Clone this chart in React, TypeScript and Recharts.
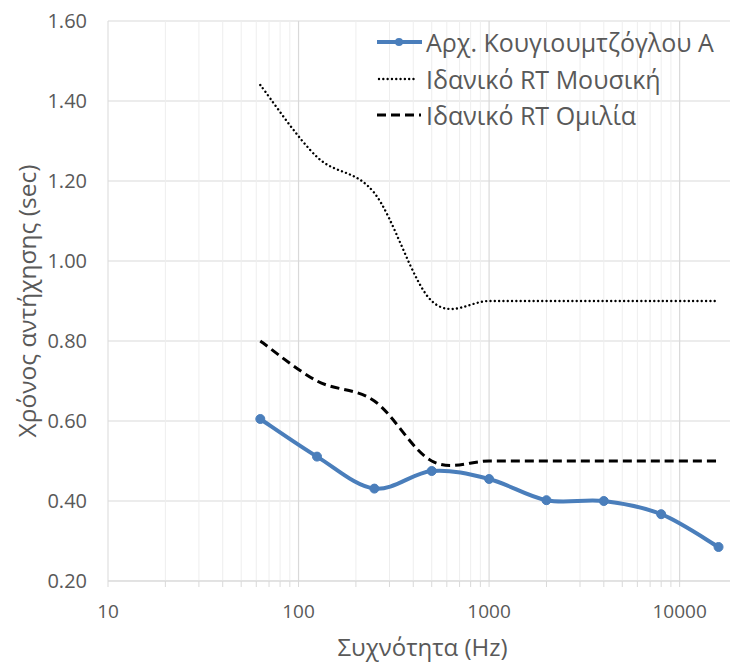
import { LineChart, Line, XAxis, YAxis, CartesianGrid, ReferenceLine, Legend } from "recharts"

const frequencies = [63, 125, 250, 500, 1000, 2000, 4000, 8000, 16000]
const measured = [0.605, 0.511, 0.431, 0.475, 0.455, 0.402, 0.4, 0.367, 0.285]
const idealMusic = [1.44, 1.26, 1.17, 0.9, 0.9, 0.9, 0.9, 0.9, 0.9]
const idealSpeech = [0.8, 0.7, 0.65, 0.5, 0.5, 0.5, 0.5, 0.5, 0.5]

const yTicks = [0.2, 0.4, 0.6, 0.8, 1.0, 1.2, 1.4, 1.6]
const majorX = [10, 100, 1000, 10000]
const minorX = [20, 30, 40, 50, 60, 70, 80, 90, 200, 300, 400, 500, 600, 700, 800, 900, 2000, 3000, 4000, 5000, 6000, 7000, 8000, 9000, 20000]

const seriesNames = ["Αρχ. Κουγιουμτζόγλου Α", "Ιδανικό RT Μουσική", "Ιδανικό RT Ομιλία"]

const data = frequencies.map((f, i) => ({
  f,
  measured: measured[i],
  music: idealMusic[i],
  speech: idealSpeech[i],
}))

const FONT = "'Open Sans', sans-serif"
const TEXT = "#595959"
const BLUE = "#4a7ebb"

// excel-like smoothed line (catmull-rom through the points)
function excelSmooth(context: any) {
  let xs: number[] = []
  let ys: number[] = []
  return {
    areaStart() {},
    areaEnd() {},
    lineStart() {
      xs = []
      ys = []
    },
    lineEnd() {
      const n = xs.length
      if (!n) return
      context.moveTo(xs[0], ys[0])
      for (let i = 0; i < n - 1; i++) {
        const p = Math.max(i - 1, 0)
        const q = Math.min(i + 2, n - 1)
        context.bezierCurveTo(
          xs[i] + (xs[i + 1] - xs[p]) / 6,
          ys[i] + (ys[i + 1] - ys[p]) / 6,
          xs[i + 1] - (xs[q] - xs[i]) / 6,
          ys[i + 1] - (ys[q] - ys[i]) / 6,
          xs[i + 1],
          ys[i + 1]
        )
      }
    },
    point(x: number, y: number) {
      xs.push(+x)
      ys.push(+y)
    },
  }
}

function LegendBox() {
  const row = { display: "flex", alignItems: "center", height: 36.5 }
  const label = { fontFamily: FONT, fontSize: 25, color: TEXT, marginLeft: 4, whiteSpace: "nowrap" as const }
  return (
    <div>
      <div style={row}>
        <svg width={45} height={12}>
          <line x1={0} y1={6} x2={45} y2={6} stroke={BLUE} strokeWidth={4} />
          <circle cx={22} cy={6} r={4} fill={BLUE} />
        </svg>
        <span style={label}>{seriesNames[0]}</span>
      </div>
      <div style={row}>
        <svg width={45} height={12}>
          <line x1={2} y1={6} x2={37} y2={6} stroke="#000" strokeWidth={2.4} strokeDasharray="0.01 4.3" strokeLinecap="round" />
        </svg>
        <span style={label}>{seriesNames[1]}</span>
      </div>
      <div style={row}>
        <svg width={45} height={12}>
          <line x1={0} y1={6} x2={44} y2={6} stroke="#000" strokeWidth={3} strokeDasharray="9 5" />
        </svg>
        <span style={label}>{seriesNames[2]}</span>
      </div>
    </div>
  )
}

export default function App() {
  return (
    <div style={{ position: "absolute", left: 0, top: 0, width: 730, height: 666, overflow: "hidden", background: "#fff" }}>
      <LineChart width={740} height={666} data={data} margin={{ top: 21, right: 3, bottom: 0, left: 0 }}>
        <CartesianGrid horizontal vertical={false} stroke="#d9d9d9" strokeWidth={1.2} />
        {minorX.map((x) => (
          <ReferenceLine key={"m" + x} x={x} stroke="#eeeeee" strokeWidth={1} />
        ))}
        {majorX.slice(1).map((x) => (
          <ReferenceLine key={"M" + x} x={x} stroke="#d9d9d9" strokeWidth={1.2} />
        ))}
        <XAxis
          dataKey="f"
          type="number"
          scale="log"
          domain={[10, 20000]}
          ticks={[...majorX, ...minorX].sort((a, b) => a - b)}
          tickFormatter={(v) => (majorX.includes(v) ? String(v) : "")}
          interval={0}
          allowDataOverflow
          height={85}
          stroke="#d9d9d9"
          tickSize={6}
          tickMargin={18}
          tick={{ fill: TEXT, fontSize: 19, fontFamily: FONT }}
          label={{
            value: "Συχνότητα (Hz)",
            position: "insideBottom",
            offset: 10,
            style: { fill: TEXT, fontSize: 24, fontFamily: FONT },
          }}
        />
        <YAxis
          type="number"
          domain={[0.2, 1.6]}
          ticks={yTicks}
          tickFormatter={(v) => v.toFixed(2)}
          width={108}
          stroke="#d9d9d9"
          tickLine={false}
          tickSize={0}
          tickMargin={21}
          tick={{ fill: TEXT, fontSize: 20, fontFamily: FONT }}
          label={{
            value: "Χρόνος αντήχησης (sec)",
            angle: -90,
            position: "insideLeft",
            offset: 27,
            style: { fill: TEXT, fontSize: 24.5, fontFamily: FONT, textAnchor: "middle" },
          }}
        />
        <Legend
          layout="vertical"
          align="center"
          verticalAlign="middle"
          wrapperStyle={{ position: "absolute", left: 377, top: 24, width: 352 }}
          content={() => <LegendBox />}
        />
        <Line
          dataKey="music"
          type={excelSmooth as any}
          stroke="#000"
          strokeWidth={2.4}
          strokeDasharray="0.01 4.3"
          strokeLinecap="round"
          dot={false}
          isAnimationActive={false}
        />
        <Line
          dataKey="speech"
          type={excelSmooth as any}
          stroke="#000"
          strokeWidth={3}
          strokeDasharray="9 5"
          dot={false}
          isAnimationActive={false}
        />
        <Line
          dataKey="measured"
          type={excelSmooth as any}
          stroke={BLUE}
          strokeWidth={4}
          dot={{ r: 4.5, fill: BLUE, stroke: BLUE, strokeWidth: 1 }}
          isAnimationActive={false}
        />
      </LineChart>
    </div>
  )
}
